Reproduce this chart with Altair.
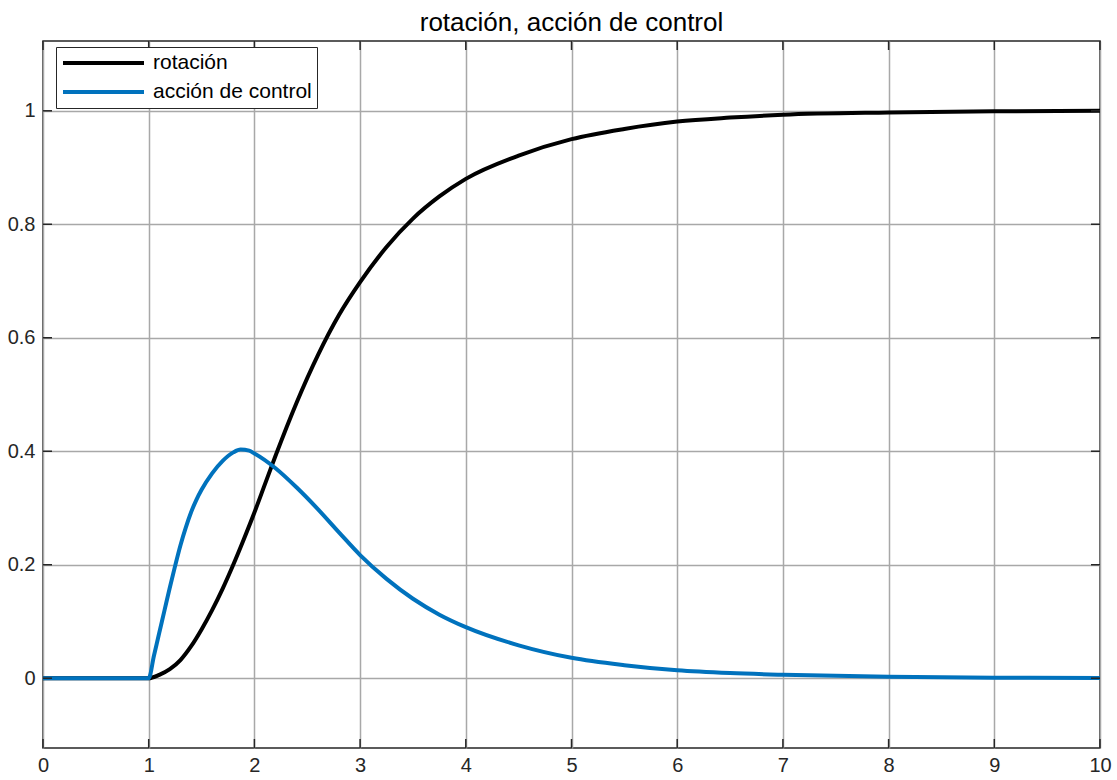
import altair as alt
import pandas as pd

# --- data ---
series_names = ["rotación", "acción de control"]
series_colors = ["#000000", "#0072BD"]

t_rot = [0, 1, 1.1, 1.2, 1.3, 1.4, 1.5, 1.6, 1.7, 1.8, 1.9, 2.0, 2.1, 2.2, 2.4,
         2.6, 2.8, 3.0, 3.25, 3.5, 3.75, 4.0, 4.5, 5.0, 5.5, 6.0, 6.5, 7.0, 8.0,
         9.0, 10.0]
rot = [0, 0, 0.006, 0.016, 0.032, 0.056, 0.086, 0.12, 0.158, 0.2, 0.245, 0.292,
       0.342, 0.392, 0.486, 0.569, 0.640, 0.698, 0.760, 0.810, 0.849, 0.880,
       0.921, 0.950, 0.968, 0.981, 0.988, 0.993, 0.997, 0.999, 1.0]

t_u = [0, 1, 1.05, 1.1, 1.15, 1.2, 1.25, 1.3, 1.35, 1.4, 1.45, 1.5, 1.6, 1.7,
       1.8, 1.87, 1.95, 2.0, 2.2, 2.4, 2.6, 2.8, 3.0, 3.25, 3.5, 3.75, 4.0, 4.5,
       5.0, 5.5, 6.0, 6.5, 7.0, 8.0, 9.0, 10.0]
u = [0, 0, 0.04, 0.08, 0.12, 0.16, 0.198, 0.234, 0.265, 0.292, 0.314, 0.332,
     0.361, 0.383, 0.398, 0.403, 0.401, 0.396, 0.37, 0.336, 0.298, 0.257, 0.217,
     0.175, 0.14, 0.112, 0.09, 0.058, 0.036, 0.023, 0.014, 0.009, 0.006, 0.0025,
     0.001, 0.0005]

x_ticks = [0, 1, 2, 3, 4, 5, 6, 7, 8, 9, 10]
y_ticks = [0, 0.2, 0.4, 0.6, 0.8, 1.0]

title_text = "rotación, acción de control"

# --- tables ---
df_rot = pd.DataFrame({"t": t_rot, "v": rot, "serie": series_names[0]})
df_u = pd.DataFrame({"t": t_u, "v": u, "serie": series_names[1]})
df_xt = pd.DataFrame({"t": x_ticks})
df_yt = pd.DataFrame({"v": y_ticks})

W, H = 1057, 707
FONT = "Liberation Sans"
TXT = "#262626"
GRID = "#a8a8a8"

xscale = alt.Scale(domain=[0, 10], nice=False, zero=False)
yscale = alt.Scale(domain=[-0.123, 1.123], nice=False, zero=False)

xaxis = alt.Axis(values=x_ticks, title=None, grid=True, ticks=False, domain=False,
                 labelFontSize=20, labelFont=FONT, labelColor=TXT, labelPadding=7,
                 gridColor=GRID, gridWidth=1.5, labelFlush=False)
yaxis = alt.Axis(values=y_ticks, title=None, grid=True, ticks=False, domain=False,
                 labelFontSize=20, labelFont=FONT, labelColor=TXT, labelPadding=8,
                 gridColor=GRID, gridWidth=1.5, format=".1~f")

legend = alt.Legend(orient="none", legendX=13, legendY=6, title=None,
                    symbolType="stroke", symbolSize=6561, symbolStrokeWidth=4,
                    clipHeight=22, rowPadding=7, padding=5, labelFontSize=21,
                    labelFont=FONT, labelColor="#000000", labelOffset=7,
                    fillColor="white", strokeColor=TXT, symbolOffset=0)

color = alt.Color("serie:N", scale=alt.Scale(domain=series_names, range=series_colors),
                  legend=legend)

X = alt.X("t:Q", scale=xscale, axis=xaxis)
Y = alt.Y("v:Q", scale=yscale, axis=yaxis)

line_rot = alt.Chart(df_rot).mark_line(strokeWidth=4, interpolate="monotone").encode(
    x=X, y=Y, color=color)
line_u = alt.Chart(df_u).mark_line(strokeWidth=4, interpolate="monotone").encode(
    x=X, y=Y, color=color)

TL = 9
tick_style = dict(color=TXT, strokeWidth=1.5)
ticks_bottom = alt.Chart(df_xt).mark_rule(**tick_style).encode(
    x=X, y=alt.value(H), y2=alt.value(H - TL))
ticks_top = alt.Chart(df_xt).mark_rule(**tick_style).encode(
    x=X, y=alt.value(0), y2=alt.value(TL))
ticks_left = alt.Chart(df_yt).mark_rule(**tick_style).encode(
    y=Y, x=alt.value(0), x2=alt.value(TL))
ticks_right = alt.Chart(df_yt).mark_rule(**tick_style).encode(
    y=Y, x=alt.value(W), x2=alt.value(W - TL))

chart = alt.layer(
    line_rot, line_u, ticks_bottom, ticks_top, ticks_left, ticks_right
).properties(
    width=W, height=H,
    padding={"left": 43, "top": 41, "right": 17, "bottom": 32},
    autosize=alt.AutoSizeParams(type="none"),
    title=alt.Title(title_text, fontSize=26, font=FONT, fontWeight="normal",
                    color="#000000", anchor="middle", frame="group",
                    baseline="alphabetic", offset=9, dy=26),
    background="white",
).configure_view(stroke=TXT, strokeWidth=1.5)

chart.save("out.html", embed_options={"renderer": "svg", "actions": False})
